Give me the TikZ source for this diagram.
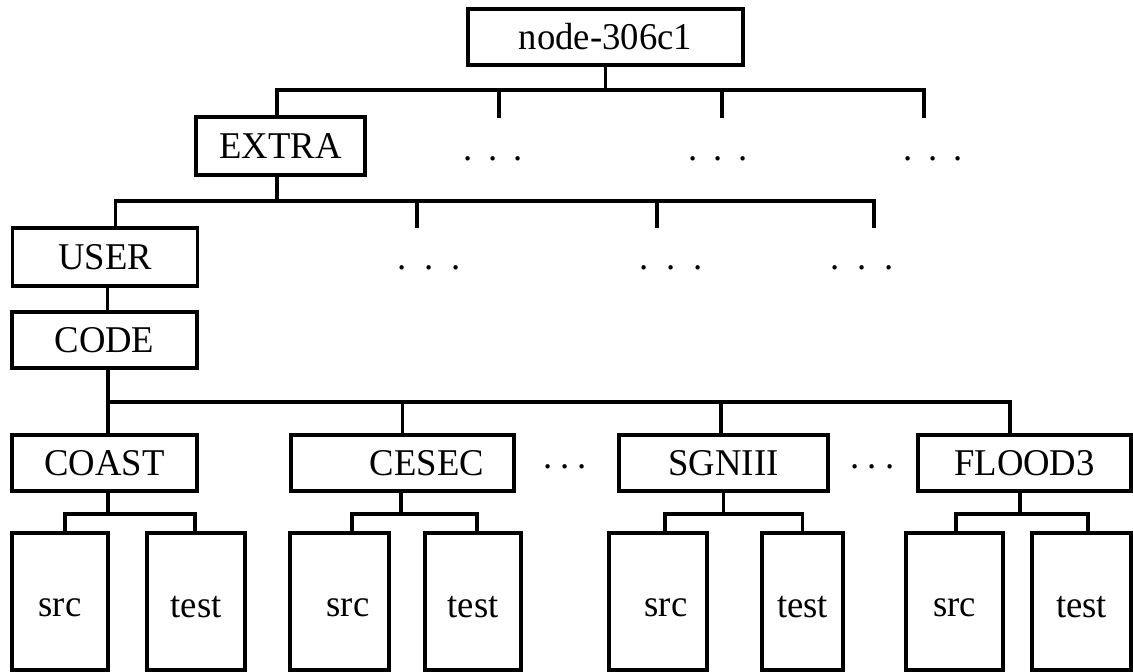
\documentclass[tikz,border=0pt]{standalone}
\usepackage{fontspec}
\setmainfont{Liberation Serif}[FakeStretch=0.97]
\newcommand{\lowtxt}[1]{\raisebox{-6pt}[\height][\depth]{#1}}
\tikzset{
  box/.style={draw, line width=3.2pt, inner sep=0pt, minimum height=56pt,
    font=\fontsize{37.8}{40}\selectfont},
  leaf/.style={box, minimum height=137pt},
  conn/.style={line width=3.2pt},
  dotrow/.style={inner sep=0pt, anchor=base, font=\fontsize{37.8}{40}\selectfont}
}
\begin{document}
\begin{tikzpicture}[x=1pt,y=-1pt]
\useasboundingbox (0,0) rectangle (1133,672);
\clip (0,0) rectangle (1133,672);
\fill[white] (0,0) rectangle (1133,672);

% boxes
\node[box, minimum width=275pt] (root) at (605.5,37) {node-306c1};
\node[box, minimum width=169pt, minimum height=58pt] (extra) at (280.5,146) {EXTRA};
\node[box, minimum width=185pt, minimum height=58pt] (user) at (105.3,257) {USER};
\node[box, minimum width=185pt] (code) at (104.5,340) {CODE};

\node[box, minimum width=185pt] (coast) at (104.5,463) {COAST};
\node[box, minimum width=223pt] (cesec) at (402.5,463) {\hspace*{49pt}CESEC};
\node[box, minimum width=209pt] (sgn) at (723.5,463) {SGNIII};
\node[box, minimum width=213pt] (flood) at (1024.5,463) {FLOOD3};

\node[leaf, minimum width=96pt] (coastsrc) at (60,601.5) {\lowtxt{src}};
\node[leaf, minimum width=98pt] (coasttest) at (196,601.5) {\lowtxt{test}};
\node[leaf, minimum width=99pt] (cesecsrc) at (339.5,601.5) {\hspace*{17pt}\lowtxt{src}};
\node[leaf, minimum width=96pt] (cesectest) at (473,601.5) {\lowtxt{test}};
\node[leaf, minimum width=98pt] (sgnsrc) at (658,601.5) {\hspace*{16pt}\lowtxt{src}};
\node[leaf, minimum width=81pt] (sgntest) at (802.5,601.5) {\lowtxt{test}};
\node[leaf, minimum width=97pt] (floodsrc) at (954.5,601.5) {\lowtxt{src}};
\node[leaf, minimum width=99pt] (floodtest) at (1081.5,601.5) {\lowtxt{test}};

% ellipses
\node[dotrow] (dA) at (493,160) {.\hspace{15.8pt}.\hspace{15.8pt}.};
\node[dotrow] (dB) at (718,160) {.\hspace{15.8pt}.\hspace{15.8pt}.};
\node[dotrow] (dC) at (933,160) {.\hspace{15.8pt}.\hspace{15.8pt}.};
\node[dotrow] (dD) at (429.5,269) {.\hspace{17.8pt}.\hspace{17.8pt}.};
\node[dotrow] (dE) at (671,269) {.\hspace{17.8pt}.\hspace{17.8pt}.};
\node[dotrow] (dF) at (862.5,269) {.\hspace{17.8pt}.\hspace{17.8pt}.};
\node[dotrow] (dG) at (565,468) {.\hspace{8.1pt}.\hspace{8.1pt}.};
\node[dotrow] (dH) at (872.5,468) {.\hspace{8.1pt}.\hspace{8.1pt}.};

% free ends of branches
\coordinate (y1) at (0,90);
\coordinate (t2) at (499,118);
\coordinate (t3) at (722,118);
\coordinate (t4) at (924,118);
\coordinate (y2) at (0,201);
\coordinate (s2) at (417,228);
\coordinate (s3) at (657,228);
\coordinate (s4) at (874,228);
\coordinate (y3) at (0,402);
\coordinate (y4) at (0,514);

% level 1
\draw[conn] (root.south) -- (root.south |- y1);
\draw[conn] ([xshift=-3.5pt]extra.north) |- (t4 |- y1) -- (t4);
\draw[conn] (t2 |- y1) -- (t2);
\draw[conn] (t3 |- y1) -- (t3);

% level 2
\draw[conn] ([xshift=-3.5pt]extra.south) -- ([xshift=-3.5pt]extra.south |- y2);
\draw[conn] ([xshift=10.2pt]user.north) |- (s4 |- y2) -- (s4);
\draw[conn] (s2 |- y2) -- (s2);
\draw[conn] (s3 |- y2) -- (s3);

% user -> code
\draw[conn] ([xshift=2.5pt]user.south) -- ([xshift=2.5pt]user.south |- code.north);

% level 3
\draw[conn] ([xshift=3.5pt]code.south) -- ([xshift=3.5pt]coast.north);
\draw[conn] ([xshift=3.5pt]code.south |- y3) -| ([xshift=-14.5pt]flood.north);
\draw[conn] (cesec.north |- y3) -- (cesec.north);
\draw[conn] ([xshift=-2.5pt]sgn.north |- y3) -- ([xshift=-2.5pt]sgn.north);

% level 4
\draw[conn] ([xshift=3.5pt]coast.south) -- ([xshift=3.5pt]coast.south |- y4);
\draw[conn] ([xshift=5pt]coastsrc.north) |- ([xshift=-1pt]coasttest.north |- y4) -- ([xshift=-1pt]coasttest.north);

\draw[conn] ([xshift=-1.5pt]cesec.south) -- ([xshift=-1.5pt]cesec.south |- y4);
\draw[conn] ([xshift=12.5pt]cesecsrc.north) |- ([xshift=4pt]cesectest.north |- y4) -- ([xshift=4pt]cesectest.north);

\draw[conn] (sgn.south) -- (sgn.south |- y4);
\draw[conn] ([xshift=7pt]sgnsrc.north) |- (sgntest.north |- y4) -- (sgntest.north);

\draw[conn] ([xshift=-4.5pt]flood.south) -- ([xshift=-4.5pt]flood.south |- y4);
\draw[conn] ([xshift=1.5pt]floodsrc.north) |- ([xshift=6.5pt]floodtest.north |- y4) -- ([xshift=6.5pt]floodtest.north);
\end{tikzpicture}
\end{document}
